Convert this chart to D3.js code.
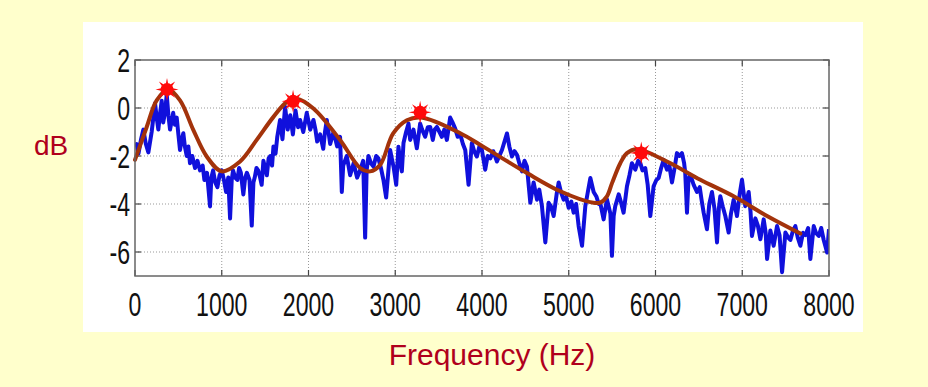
<!DOCTYPE html>
<html>
<head>
<meta charset="utf-8">
<script src="https://cdn.jsdelivr.net/npm/d3@7"></script>
<style>
  html, body { margin: 0; padding: 0; background: #ffffcc; }
  svg { display: block; }
</style>
</head>
<body>
<script>
const width = 928;
const height = 387;

// noisy spectrum (Hz, dB)
const specFreq = [0,20,40,70,96,125,154,192,231,250,269,290,308,325,345,366,385,404,440,460,481,500,519,540,557,575,596,615,634,660,692,720,750,780,800,830,865,880,900,925,950,975,1000,1025,1050,1075,1096,1115,1130,1155,1180,1200,1220,1249,1270,1290,1320,1346,1365,1380,1400,1420,1442,1460,1480,1500,1520,1540,1560,1580,1596,1620,1640,1672,1700,1730,1760,1790,1820,1850,1880,1903,1940,1980,2020,2057,2080,2100,2134,2170,2190,2211,2250,2288,2310,2330,2364,2384,2400,2441,2480,2520,2560,2595,2630,2653,2670,2691,2720,2749,2780,2806,2835,2864,2895,2941,2960,2980,3011,3037,3055,3076,3095,3125,3153,3172,3210,3249,3287,3310,3345,3375,3403,3433,3455,3480,3510,3537,3565,3595,3633,3660,3691,3720,3749,3780,3807,3845,3883,3910,3941,3970,3999,4037,4065,4095,4130,4172,4200,4230,4288,4315,4345,4375,4403,4430,4461,4490,4518,4557,4595,4634,4660,4691,4730,4768,4795,4826,4860,4884,4910,4941,4970,4999,5030,5056,5085,5114,5153,5191,5220,5249,5287,5320,5345,5363,5402,5440,5480,5498,5518,5536,5576,5600,5632,5671,5700,5728,5767,5800,5825,5850,5882,5910,5940,5978,6010,6036,6065,6094,6132,6160,6190,6220,6247,6275,6305,6330,6343,6363,6380,6401,6440,6478,6510,6530,6555,6593,6620,6651,6680,6709,6730,6747,6775,6805,6843,6870,6901,6939,6970,6997,7035,7074,7095,7112,7151,7180,7209,7247,7270,7286,7324,7362,7401,7430,7459,7497,7530,7555,7585,7612,7640,7670,7700,7728,7760,7785,7824,7850,7882,7910,7939,7978,8000];
const specDb = [-1.6,-1.5,-1.9,-1.3,-0.9,-1.5,-1.85,-1.0,0.2,-0.4,-0.9,-0.2,0.3,-0.6,-0.2,0.55,-0.3,-0.9,-0.2,-0.7,-0.4,-1.1,-1.75,-1.3,-1.05,-1.6,-2.0,-1.6,-2.3,-2.0,-2.5,-2.2,-2.6,-2.4,-3.0,-2.7,-4.1,-2.9,-2.6,-3.1,-3.3,-2.8,-2.6,-3.0,-3.5,-2.9,-4.6,-3.0,-2.6,-2.9,-3.0,-2.5,-2.7,-3.6,-2.9,-2.7,-3.0,-4.9,-3.1,-2.9,-2.5,-2.6,-2.9,-3.2,-2.2,-2.5,-2.8,-2.1,-2.0,-2.4,-1.6,-1.9,-1.2,-0.5,-1.3,0.05,-0.9,-0.3,-1.1,-0.1,-0.8,-0.5,-1.0,-0.2,-0.9,-0.5,-0.9,-1.4,-1.1,-1.7,-1.0,-0.5,-1.5,-1.0,-1.3,-1.6,-1.2,-3.5,-2.4,-2.0,-2.8,-2.3,-2.9,-2.6,-2.2,-5.4,-2.6,-2.0,-2.3,-2.44,-2.0,-2.1,-2.5,-3.0,-3.73,-1.75,-2.1,-2.44,-3.2,-1.61,-2.2,-2.64,-1.46,-1.0,-0.65,-1.33,-0.9,-1.68,-0.65,-0.9,-1.2,-0.8,-0.79,-1.33,-0.9,-0.79,-1.0,-1.2,-0.9,-1.33,-0.4,-0.6,-0.86,-1.2,-1.1,-1.5,-1.75,-3.2,-1.46,-1.8,-2.02,-1.6,-1.75,-2.57,-2.0,-2.1,-1.8,-2.23,-2.0,-1.75,-1.06,-1.6,-2.02,-1.8,-1.95,-2.3,-2.64,-2.2,-2.44,-3.95,-3.1,-3.82,-3.4,-4.09,-5.6,-3.95,-4.1,-4.5,-3.6,-3.1,-3.5,-3.82,-3.7,-4.16,-3.9,-4.36,-4.0,-4.92,-5.74,-4.09,-3.5,-2.92,-3.5,-3.7,-4.0,-3.95,-4.64,-3.8,-4.4,-6.16,-4.5,-4.09,-3.6,-3.9,-4.36,-3.26,-2.8,-2.3,-2.57,-2.2,-2.3,-2.6,-2.5,-3.2,-4.5,-3.26,-3.0,-2.92,-2.5,-2.16,-2.57,-2.4,-3.1,-2.5,-1.88,-2.0,-1.88,-2.3,-2.71,-4.36,-3.0,-2.78,-3.2,-3.5,-3.3,-3.8,-4.36,-5.05,-4.0,-3.5,-4.2,-5.6,-4.2,-3.68,-4.1,-4.5,-5.19,-4.4,-3.82,-4.5,-3.6,-2.99,-4.09,-3.5,-4.3,-5.33,-4.6,-4.9,-5.47,-4.64,-5.2,-6.29,-5.1,-5.74,-4.92,-5.3,-6.84,-5.19,-5.4,-5.5,-5.1,-4.92,-5.4,-5.74,-5.2,-5.3,-5.0,-6.29,-4.92,-5.2,-5.33,-5.0,-5.5,-6.02,-5.05];

// smooth envelope (Hz, dB)
const envFreq = [0,135,250,384,519,673,827,1000,1211,1403,1596,1749,1865,2057,2364,2595,2710,2826,2976,3134,3300,3749,4014,4518,4902,5284,5363,5440,5500,5594,5671,5786,6132,6517,6901,7286,7670];
const envDb = [-2.16,-0.79,0.32,0.76,0.32,-0.92,-2.02,-2.64,-2.23,-1.33,-0.37,0.25,0.39,-0.02,-1.33,-2.5,-2.64,-2.37,-1.06,-0.51,-0.4,-1.05,-1.61,-2.71,-3.47,-3.95,-3.94,-3.68,-3.12,-2.3,-1.88,-1.72,-2.23,-2.99,-3.68,-4.5,-5.23];

// formant peaks
const peakFreq = [369, 1822, 3287, 5836];
const peakDb = [0.77, 0.28, -0.18, -1.87];

const xTicks = [0,1000,2000,3000,4000,5000,6000,7000,8000];
const yTicks = [2,0,-2,-4,-6];

const plot = {left: 135, right: 829, top: 60, bottom: 276};

const x = d3.scaleLinear().domain([0, 8000]).range([plot.left, plot.right]);
const y = d3.scaleLinear().domain([-7, 2]).range([plot.bottom, plot.top]);

const svg = d3.select(document.body).append("svg")
    .attr("width", width)
    .attr("height", height);

svg.append("rect")
    .attr("width", width).attr("height", height)
    .attr("fill", "#ffffcc");

// white figure panel
svg.append("rect")
    .attr("x", 83).attr("y", 22)
    .attr("width", 780).attr("height", 310)
    .attr("fill", "#fff");

// dotted grid
const grid = svg.append("g")
    .attr("stroke", "#999")
    .attr("stroke-width", 1)
    .attr("stroke-dasharray", "1,2");
grid.selectAll("line.v")
    .data(xTicks.slice(1, -1))
    .join("line")
    .attr("x1", d => x(d)).attr("x2", d => x(d))
    .attr("y1", plot.top).attr("y2", plot.bottom);
grid.selectAll("line.h")
    .data(yTicks.slice(1))
    .join("line")
    .attr("x1", plot.left).attr("x2", plot.right)
    .attr("y1", d => y(d)).attr("y2", d => y(d));

// inward ticks on all four sides
const tickLen = 6;
const ticks = svg.append("g").attr("stroke", "#444").attr("stroke-width", 1.2);
xTicks.forEach(v => {
    ticks.append("line").attr("x1", x(v)).attr("x2", x(v))
        .attr("y1", plot.bottom).attr("y2", plot.bottom - tickLen);
    ticks.append("line").attr("x1", x(v)).attr("x2", x(v))
        .attr("y1", plot.top).attr("y2", plot.top + tickLen);
});
yTicks.forEach(v => {
    ticks.append("line").attr("y1", y(v)).attr("y2", y(v))
        .attr("x1", plot.left).attr("x2", plot.left + tickLen);
    ticks.append("line").attr("y1", y(v)).attr("y2", y(v))
        .attr("x1", plot.right).attr("x2", plot.right - tickLen);
});

svg.append("defs").append("clipPath").attr("id", "clip")
  .append("rect")
    .attr("x", plot.left).attr("y", plot.top)
    .attr("width", plot.right - plot.left).attr("height", plot.bottom - plot.top);

// spectrum
const spec = specFreq.map((f, i) => [f, specDb[i]]);
svg.append("path")
    .datum(spec)
    .attr("clip-path", "url(#clip)")
    .attr("fill", "none")
    .attr("stroke", "#1010dc")
    .attr("stroke-width", 4)
    .attr("stroke-linejoin", "round")
    .attr("d", d3.line().x(d => x(d[0])).y(d => y(d[1])));

// envelope
const env = envFreq.map((f, i) => [f, envDb[i]]);
svg.append("path")
    .datum(env)
    .attr("fill", "none")
    .attr("stroke", "#a3330b")
    .attr("stroke-width", 4)
    .attr("stroke-linecap", "round")
    .attr("d", d3.line().curve(d3.curveCatmullRom).x(d => x(d[0])).y(d => y(d[1])));

// axes box
svg.append("rect")
    .attr("x", plot.left).attr("y", plot.top)
    .attr("width", plot.right - plot.left).attr("height", plot.bottom - plot.top)
    .attr("fill", "none")
    .attr("stroke", "#666")
    .attr("stroke-width", 1.5);

// peak markers: red dot with little rays
const peaks = svg.append("g").attr("fill", "#ff0a0a");
peakFreq.forEach((f, i) => {
    const g = peaks.append("g").attr("transform", `translate(${x(f)},${y(peakDb[i])})`);
    g.append("circle").attr("r", 6.5);
    d3.range(8).forEach(k => {
        const a = k * Math.PI / 4 - Math.PI / 2;
        const p = (r, da) => [r * Math.cos(a + da), r * Math.sin(a + da)];
        g.append("path").attr("d", "M" + p(6, -0.2) + "L" + p(11.5, 0) + "L" + p(6, 0.2) + "Z");
    });
});

// tick labels (squeezed, like the original figure)
const font = "'Liberation Sans', Arial, sans-serif";
svg.append("g").selectAll("text")
    .data(xTicks)
    .join("text")
    .attr("transform", d => `translate(${x(d)},316) scale(0.68,1)`)
    .attr("text-anchor", "middle")
    .attr("font-family", font)
    .attr("font-size", 34)
    .attr("fill", "#111")
    .text(d => d);

svg.append("g").selectAll("text")
    .data(yTicks)
    .join("text")
    .attr("transform", d => `translate(130,${y(d) + 12}) scale(0.68,1)`)
    .attr("text-anchor", "end")
    .attr("font-family", font)
    .attr("font-size", 34)
    .attr("fill", "#111")
    .text(d => d < 0 ? "-" + Math.abs(d) : d);

// axis titles
svg.append("text")
    .attr("x", 51).attr("y", 155)
    .attr("text-anchor", "middle")
    .attr("font-family", font)
    .attr("font-size", 28)
    .attr("fill", "#b0001c")
    .text("dB");

svg.append("text")
    .attr("x", 492).attr("y", 365)
    .attr("text-anchor", "middle")
    .attr("font-family", font)
    .attr("font-size", 30)
    .attr("fill", "#b0001c")
    .text("Frequency (Hz)");
</script>
</body>
</html>
